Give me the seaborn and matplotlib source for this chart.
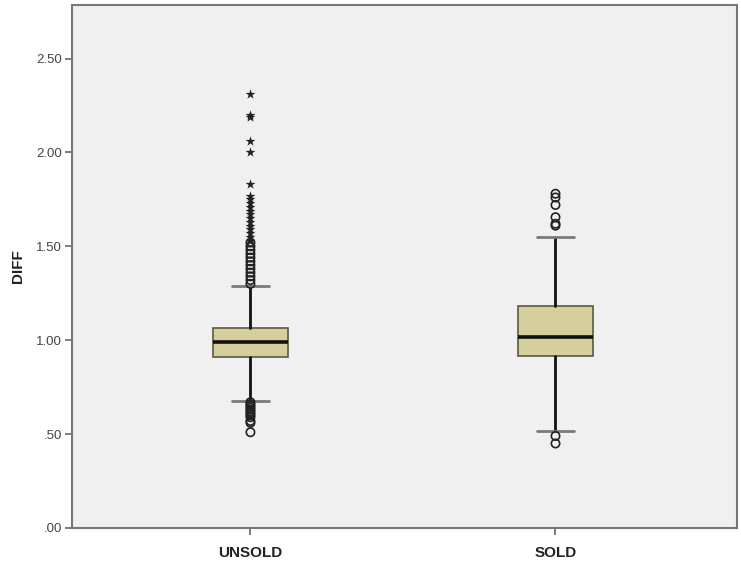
import matplotlib
matplotlib.use("Agg")
import matplotlib.pyplot as plt
import seaborn as sns
import pandas as pd

categories = ["UNSOLD", "SOLD"]
q1 = [0.91, 0.915]
median = [0.99, 1.016]
q3 = [1.064, 1.18]
whisker_low = [0.675, 0.516]
whisker_high = [1.29, 1.550]

unsold_out_circles = [1.30, 1.32, 1.34, 1.36, 1.38, 1.40, 1.42, 1.44, 1.46, 1.48, 1.50, 1.52,
                      0.67, 0.66, 0.65, 0.64, 0.63, 0.62, 0.61, 0.60, 0.59, 0.57, 0.56, 0.51]
unsold_out_stars = [2.31, 2.20, 2.19, 2.06, 2.00, 1.83, 1.77, 1.75, 1.73, 1.71, 1.69,
                    1.67, 1.65, 1.63, 1.61, 1.59, 1.57, 1.55, 1.53]
sold_out_circles = [1.78, 1.76, 1.72, 1.655, 1.62, 1.61, 0.49, 0.45]
sold_out_stars = []

yticks = [0.0, 0.5, 1.0, 1.5, 2.0, 2.5]
ytick_labels = [".00", ".50", "1.00", "1.50", "2.00", "2.50"]

sns.set_style("white")
plt.rcParams["font.family"] = ["Liberation Sans", "DejaVu Sans"]

fig = plt.figure(figsize=(7.41, 5.69), dpi=100)
ax = fig.add_axes([72 / 741, 1 - 528 / 569, (737 - 72) / 741, (528 - 5) / 569])
ax.set_facecolor("#f0f0f0")

stats = []
for i, c in enumerate(categories):
    stats.append(dict(label=c, q1=q1[i], med=median[i], q3=q3[i],
                      whislo=whisker_low[i], whishi=whisker_high[i], fliers=[]))

ax.bxp(stats, positions=range(len(categories)), widths=0.245, showfliers=False,
       patch_artist=True, manage_ticks=False,
       boxprops=dict(facecolor="#d4cf9c", edgecolor="#5a5a40", linewidth=1.2),
       medianprops=dict(color="#111111", linewidth=2.6),
       whiskerprops=dict(color="#111111", linewidth=2.0),
       capprops=dict(color="#7a7a7a", linewidth=2.0), capwidths=0.12)

circ = pd.DataFrame({
    "group": ["UNSOLD"] * len(unsold_out_circles) + ["SOLD"] * len(sold_out_circles),
    "val": unsold_out_circles + sold_out_circles,
})
stars = pd.DataFrame({
    "group": ["UNSOLD"] * len(unsold_out_stars) + ["SOLD"] * len(sold_out_stars),
    "val": unsold_out_stars + sold_out_stars,
})
sns.stripplot(data=circ, x="group", y="val", order=categories, jitter=False, ax=ax,
              marker="o", size=6, facecolor="none", edgecolor="#222222", linewidth=1.2,
              color="none", zorder=5)
sns.stripplot(data=stars, x="group", y="val", order=categories, jitter=False, ax=ax,
              marker="*", size=7.5, color="#222222", linewidth=0, zorder=5)

ax.set_xlim(-0.585, 1.595)
ax.set_ylim(0, 2.785)
ax.set_yticks(yticks)
ax.set_yticklabels(ytick_labels, color="#444444", fontsize=9.5)
ax.set_xticks(range(len(categories)))
ax.set_xticklabels(categories, fontsize=11, fontweight="bold", color="#222222")
ax.set_xlabel("")
ax.set_ylabel("DIFF", fontsize=11, fontweight="bold", color="#222222", labelpad=8)
ax.tick_params(axis="y", length=5, width=1.2, color="#666666", left=True, pad=2)
ax.tick_params(axis="x", length=5, width=1.2, color="#666666", bottom=True, pad=8)
for s in ax.spines.values():
    s.set_visible(True)
    s.set_color("#777777")
    s.set_linewidth(1.5)

fig.savefig("out.png", dpi=100, facecolor="white")
